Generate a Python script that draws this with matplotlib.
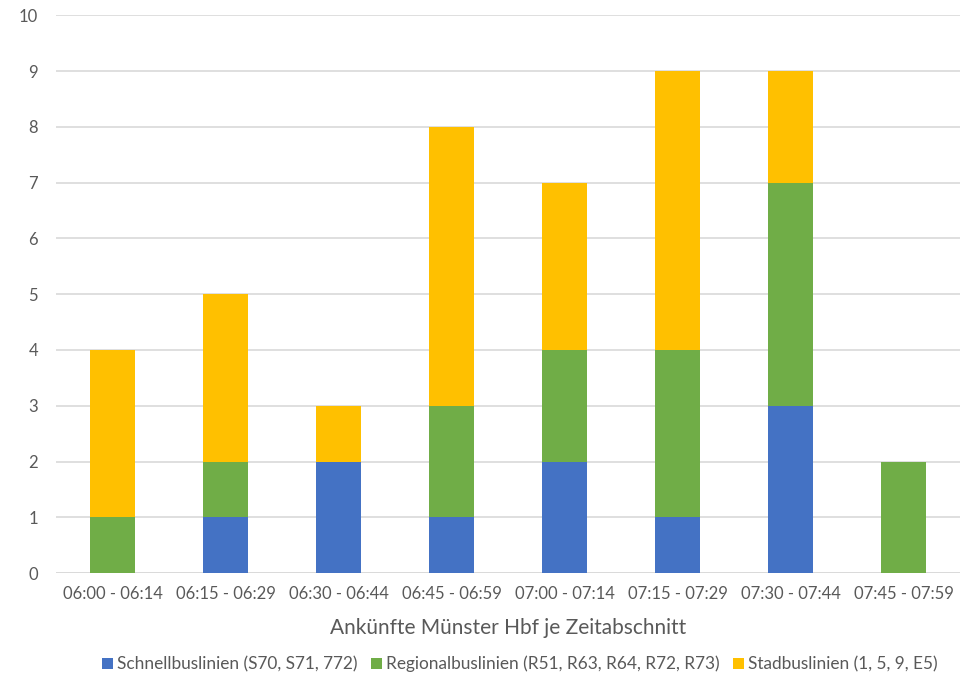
import matplotlib.pyplot as plt
import numpy as np

plt.rcParams['font.family'] = ['Lato', 'DejaVu Sans']

zeiten = ['06:00 - 06:14', '06:15 - 06:29', '06:30 - 06:44', '06:45 - 06:59',
          '07:00 - 07:14', '07:15 - 07:29', '07:30 - 07:44', '07:45 - 07:59']
schnell = [0, 1, 2, 1, 2, 1, 3, 0]
regional = [1, 1, 0, 2, 2, 3, 4, 2]
stadt = [3, 3, 1, 5, 3, 5, 2, 0]

serien = ['Schnellbuslinien (S70, S71, 772)',
          'Regionalbuslinien (R51, R63, R64, R72, R73)',
          'Stadbuslinien (1, 5, 9, E5)']
farben = ['#4472C4', '#70AD47', '#FFC000']
grau = '#595959'

fig = plt.figure(figsize=(9.65, 6.79), dpi=100)
ax = fig.add_axes([0.058, 0.1561, 0.937, 0.8211])

x = np.arange(len(zeiten))
unten = np.zeros(len(zeiten))
for werte, name, farbe in zip([schnell, regional, stadt], serien, farben):
    ax.bar(x, werte, 0.4, bottom=unten, color=farbe, label=name, zorder=3)
    unten = unten + np.array(werte)

ax.set_xlim(-0.5, len(zeiten) - 0.5)
ax.set_ylim(0, 10)
ax.set_yticks(range(0, 11))
ax.set_xticks(x)
ax.set_xticklabels(zeiten)
ax.grid(axis='y', color='#D9D9D9', linewidth=1.2, zorder=0)
ax.tick_params(length=0, colors=grau, labelsize=12)
ax.tick_params(axis='x', pad=9)
ax.tick_params(axis='y', pad=13)
for s in ax.spines.values():
    s.set_visible(False)
ax.axhline(0, color='#D9D9D9', linewidth=1.2, zorder=1)

ax.set_xlabel('Ankünfte Münster Hbf je Zeitabschnitt', fontsize=15, color=grau, labelpad=12)

fig.legend(loc='center left', bbox_to_anchor=(0.099, 0.022), ncol=3, frameon=False,
           fontsize=12.4, handlelength=0.6, handleheight=0.6, handletextpad=0.25,
           columnspacing=0.8, labelcolor=grau, borderaxespad=0)

fig.savefig('out.png', dpi=100)
